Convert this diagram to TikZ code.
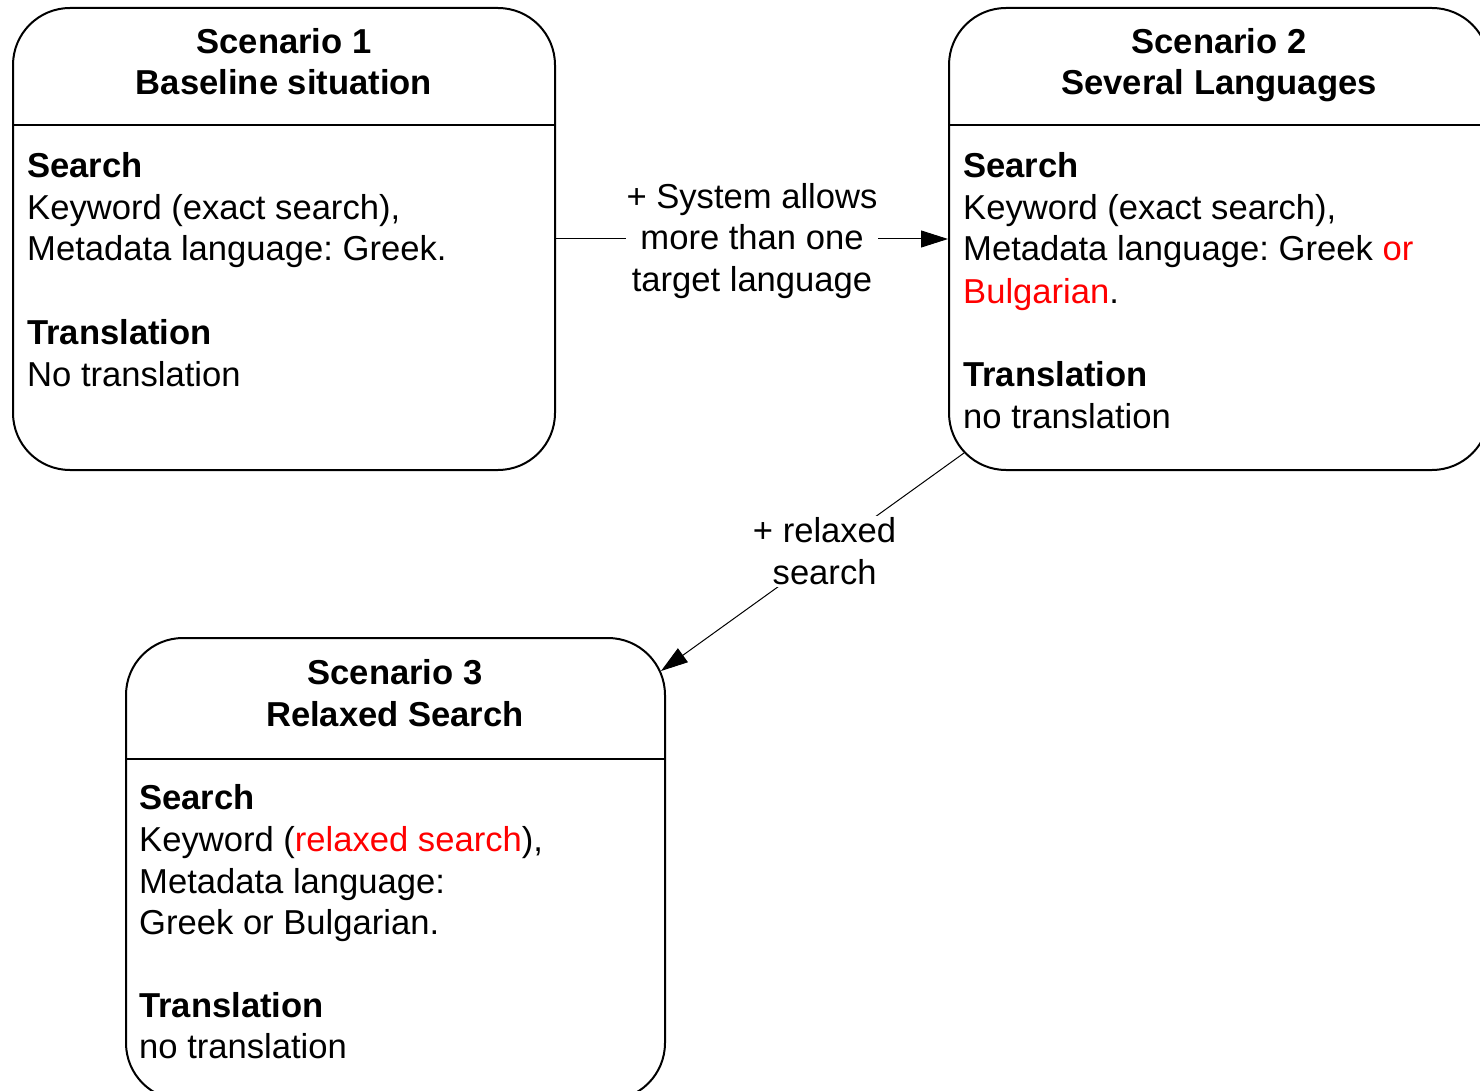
\documentclass[tikz,border=0pt]{standalone}
\usepackage{fontspec}
\setmainfont{Liberation Sans}
\usetikzlibrary{arrows.meta,calc}
\frenchspacing
\begin{document}
\begin{tikzpicture}[x=1pt,y=-1pt,
  every node/.style={font=\fontsize{34.6}{41.5}\selectfont, inner sep=0pt},
  scenbox/.style={draw, line width=2pt, rounded corners=57pt, rectangle,
    minimum width=542pt, minimum height=462pt},
  ttl/.style={anchor=base, font=\fontsize{34.6}{41.5}\selectfont\bfseries},
  hd/.style={anchor=base west, font=\fontsize{34.6}{41.5}\selectfont\bfseries},
  txt/.style={anchor=base west},
  conn/.style={line width=1pt, -{Triangle[length=27pt,width=17pt]}},
  lbl/.style={fill=white, align=center, inner xsep=1pt, inner ysep=2pt}]
\useasboundingbox (0,0) rectangle (1480,1091);
\clip (0,0) rectangle (1480,1091);

% scenario boxes
\node[scenbox] (b1) at (284,239) {};
\node[scenbox, minimum width=540pt] (b2) at (1219,239) {};
\node[scenbox, minimum width=539pt] (b3) at (395.5,869) {};

% header dividers
\draw[line width=2pt] ($(b1.north west)+(0,118)$) -- ($(b1.north east)+(0,118)$);
\draw[line width=2pt] ($(b2.north west)+(0,118)$) -- ($(b2.north east)+(0,118)$);
\draw[line width=2pt] ($(b3.north west)+(0,122)$) -- ($(b3.north east)+(0,122)$);

% Scenario 1
\node[ttl] (t1a) at (284,54) {Scenario 1};
\node[ttl] (t1b) at (284,95) {Baseline situation};
\node[hd]  (s1a) at (27,178) {Search};
\node[txt] (s1b) at (27,220) {Keyword (exact search),};
\node[txt] (s1c) at (27,261) {Metadata language: Greek.};
\node[hd]  (s1d) at (27,344) {Translation};
\node[txt] (s1e) at (27,386) {No translation};

% Scenario 2
\node[ttl] (t2a) at (1219,54) {Scenario 2};
\node[ttl] (t2b) at (1219,95) {Several Languages};
\node[hd]  (s2a) at (963,178) {Search};
\node[txt] (s2b) at (963,220) {Keyword (exact search),};
\node[txt] (s2c) at (963,261) {Metadata language: Greek \textcolor{red}{or}};
\node[txt] (s2d) at (963,303) {\textcolor{red}{Bulgarian}.};
\node[hd]  (s2e) at (963,386) {Translation};
\node[txt] (s2f) at (963,428) {no translation};

% Scenario 3
\node[ttl] (t3a) at (395,684) {Scenario 3};
\node[ttl] (t3b) at (395,726) {Relaxed Search};
\node[hd]  (s3a) at (139,809) {Search};
\node[txt] (s3b) at (139,851) {Keyword (\textcolor{red}{relaxed search}),};
\node[txt] (s3c) at (139,893) {Metadata language:};
\node[txt] (s3d) at (139,934) {Greek or Bulgarian.};
\node[hd]  (s3e) at (139,1017) {Translation};
\node[txt] (s3f) at (139,1058) {no translation};

% transitions
\coordinate (from2) at ($(b2.south west)+(16,-18)$);
\coordinate (to3) at ($(b3.north east)+(-5,34)$);
\draw[conn] (b1.east) -- node[lbl, yshift=-2pt] (l1) {+ System allows\\more than one\\target language} (b2.west);
\draw[conn] (from2) -- node[lbl, pos=0.46, yshift=2pt] (l2) {+ relaxed\\search} (to3);
\end{tikzpicture}
\end{document}
